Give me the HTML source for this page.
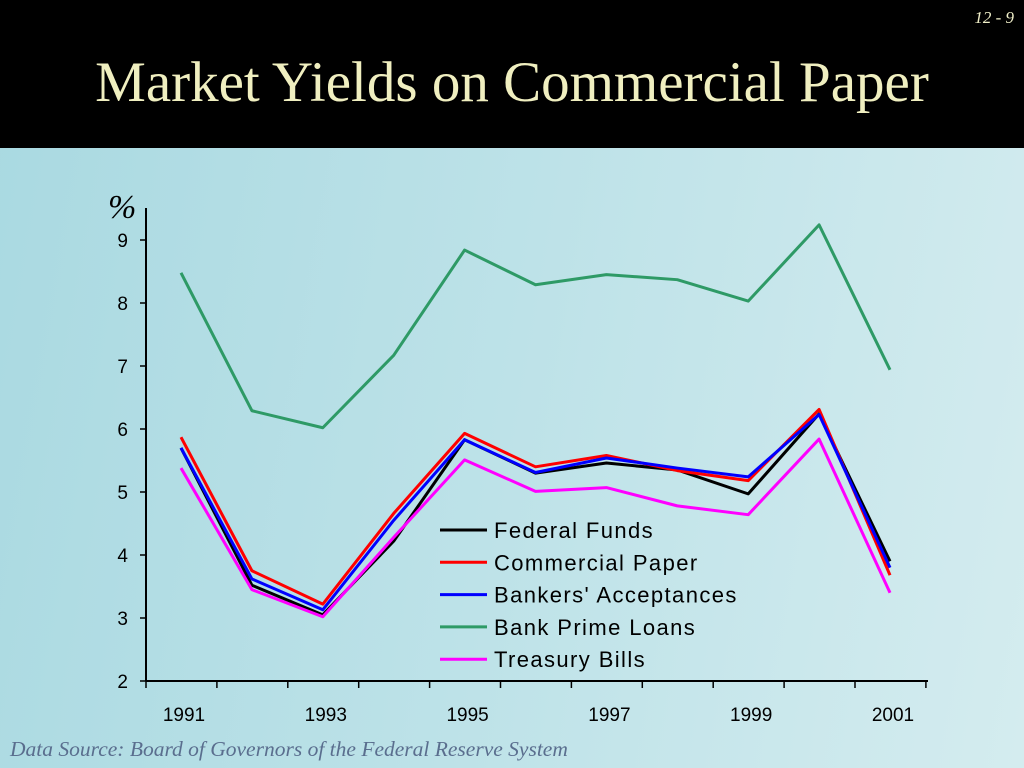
<!DOCTYPE html>
<html><head><meta charset="utf-8"><style>
body{margin:0;width:1024px;height:768px;overflow:hidden;font-family:"Liberation Sans",sans-serif}
#bg{position:absolute;left:0;top:0;width:1024px;height:768px;background:linear-gradient(100deg,#a9d9e1 0%,#bde2e8 50%,#d4ecef 100%)}
#hdr{position:absolute;left:0;top:0;width:1024px;height:148px;background:#000}
</style></head><body>
<div id="bg"></div>
<div id="hdr">
<div style="position:absolute;right:10px;top:8px;color:#f0efc8;font:italic 17px 'Liberation Serif',serif">12 - 9</div>
<div style="position:absolute;left:0;width:1024px;top:50px;text-align:center;color:#f0efc0;font:57px 'Liberation Serif',serif">Market Yields on Commercial Paper</div>
</div>
<svg id="chart" width="1024" height="768" style="position:absolute;left:0;top:0"></svg>
<div style="position:absolute;left:10px;top:737px;color:#5a6e8e;font:italic 21.5px 'Liberation Serif',serif">Data Source: Board of Governors of the Federal Reserve System</div>
<script>
const years=[1991,1992,1993,1994,1995,1996,1997,1998,1999,2000,2001];
const yTicks=[2,3,4,5,6,7,8,9];
const xLabels=[1991,1993,1995,1997,1999,2001];
const seriesNames=["Federal Funds","Commercial Paper","Bankers' Acceptances","Bank Prime Loans","Treasury Bills"];
const fedFunds=[5.7,3.52,3.05,4.22,5.83,5.3,5.46,5.35,4.97,6.24,3.9];
const commPaper=[5.87,3.75,3.22,4.66,5.93,5.4,5.58,5.34,5.18,6.31,3.68];
const bankersAcc=[5.7,3.62,3.13,4.55,5.83,5.31,5.54,5.38,5.24,6.23,3.8];
const primeLoans=[8.48,6.29,6.02,7.17,8.84,8.29,8.45,8.37,8.03,9.24,6.94];
const tBills=[5.38,3.45,3.02,4.28,5.51,5.01,5.07,4.78,4.64,5.84,3.4];
const colors=["#000000","#ff0000","#0000ff","#2e9a66","#ff00ff"];
const svg=document.getElementById('chart');const NS="http://www.w3.org/2000/svg";
const xs=y=>181+(y-1991)*70.9;
const ys=v=>681-(v-2)*63;
function mk(t,a){const e=document.createElementNS(NS,t);for(const k in a)e.setAttribute(k,a[k]);svg.appendChild(e);return e;}
let e=mk('line',{x1:146,y1:208,x2:146,y2:681,stroke:'#000','stroke-width':2});


e=mk('line',{x1:146,y1:681,x2:928,y2:681,stroke:'#000','stroke-width':2});


e=mk('text',{x:108,y:218,'font-family':'Liberation Serif','font-style':'italic','font-size':34});e.textContent='%';


yTicks.forEach(v=>{mk('line',{x1:140,x2:146,y1:ys(v),y2:ys(v),stroke:'#000','stroke-width':1.5});
const t=mk('text',{x:128,y:ys(v)+7,'text-anchor':'end','font-size':19});t.textContent=v;

});
for(let i=0;i<=11;i++){const x=146+i*70.9;mk('line',{x1:x,x2:x,y1:681,y2:688,stroke:'#000','stroke-width':1.5});}
xLabels.forEach(y=>{const t=mk('text',{x:xs(y)+3,y:721,'text-anchor':'middle','font-size':19});t.textContent=y;

});
const data=[fedFunds,commPaper,bankersAcc,primeLoans,tBills];
const order=[3,0,1,2,4];
order.forEach(i=>{const p=mk('polyline',{points:data[i].map((v,j)=>xs(years[j])+','+ys(v)).join(' '),fill:'none',stroke:colors[i],'stroke-width':3,'stroke-linejoin':'round'});

});
seriesNames.forEach((n,i)=>{const y=530+i*32.3;
const l=mk('line',{x1:440,x2:487,y1:y,y2:y,stroke:colors[i],'stroke-width':3});


const t=mk('text',{x:494,y:y+8,'font-size':22,'letter-spacing':1.4});t.textContent=n;

});
</script>
</body></html>
